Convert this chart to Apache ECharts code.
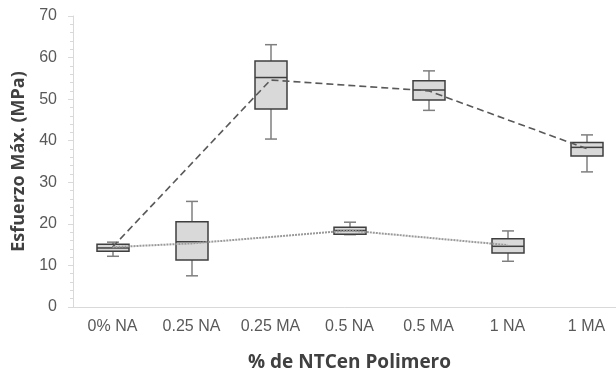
<!DOCTYPE html>
<html lang="es">
<head>
  <meta charset="UTF-8">
  <title>Esfuerzo Máx. por % de NTC en Polimero</title>
  <script src="https://cdn.jsdelivr.net/npm/echarts@6/dist/echarts.min.js"></script>
  <style>
    html, body { margin: 0; padding: 0; background: #fff; }
    #chart { width: 616px; height: 374px; }
  </style>
</head>
<body>
  <div id="chart"></div>
  <script>
    var categories = ['0% NA', '0.25 NA', '0.25 MA', '0.5 NA', '0.5 MA', '1 NA', '1 MA'];
    var boxMin    = [12.2,  7.5, 40.4, 17.4, 47.3, 11.0, 32.5];
    var boxQ1     = [13.4, 11.3, 47.6, 17.5, 49.8, 13.0, 36.3];
    var boxMedian = [14.2, 15.7, 55.2, 18.4, 52.2, 14.6, 38.4];
    var boxQ3     = [15.1, 20.5, 59.2, 19.2, 54.4, 16.4, 39.6];
    var boxMax    = [15.6, 25.4, 63.1, 20.4, 56.8, 18.3, 41.4];
    // medias de cada serie (null = no pertenece a la serie)
    var meanMA = [14.4, null, 54.6, null, 52.0, null, 38.1];
    var meanNA = [14.4, 15.3, null, 18.4, null, 14.9, null];

    var labelFont = "'Liberation Sans', Arial, sans-serif";
    var titleFont = "'Open Sans', 'Liberation Sans', sans-serif";

    var boxData = categories.map(function (c, i) {
      return [i, boxMin[i], boxQ1[i], boxMedian[i], boxQ3[i], boxMax[i]];
    });

    function renderBox(params, api) {
      var x = api.value(0);
      var pMin = api.coord([x, api.value(1)]);
      var pQ1 = api.coord([x, api.value(2)]);
      var pMed = api.coord([x, api.value(3)]);
      var pQ3 = api.coord([x, api.value(4)]);
      var pMax = api.coord([x, api.value(5)]);
      var cx = Math.round(pMed[0]);
      var half = 16, cap = 6;
      var whisker = { stroke: '#7f7f7f', lineWidth: 1.5 };
      var dark = { stroke: '#3f3f3f', lineWidth: 1.5 };
      return {
        type: 'group',
        children: [
          { type: 'line', shape: { x1: cx, y1: pMax[1], x2: cx, y2: pQ3[1] }, style: whisker },
          { type: 'line', shape: { x1: cx, y1: pQ1[1], x2: cx, y2: pMin[1] }, style: whisker },
          { type: 'line', shape: { x1: cx - cap, y1: pMax[1], x2: cx + cap, y2: pMax[1] }, style: whisker },
          { type: 'line', shape: { x1: cx - cap, y1: pMin[1], x2: cx + cap, y2: pMin[1] }, style: whisker },
          { type: 'rect', shape: { x: cx - half, y: pQ3[1], width: half * 2, height: pQ1[1] - pQ3[1] },
            style: { fill: '#d9d9d9', stroke: '#3f3f3f', lineWidth: 1.5 } },
          { type: 'line', shape: { x1: cx - half, y1: pMed[1], x2: cx + half, y2: pMed[1] }, style: dark }
        ]
      };
    }

    var chart = echarts.init(document.getElementById('chart'));
    chart.setOption({
      animation: false,
      grid: { left: 73, right: -10, top: 16, bottom: 67, containLabel: false, outerBoundsMode: 'none' },
      xAxis: {
        type: 'category',
        data: categories,
        boundaryGap: true,
        name: '% de NTCen Polimero',
        nameLocation: 'middle',
        nameGap: 46,
        nameTextStyle: { fontFamily: titleFont, fontWeight: 'bold', fontSize: 19, color: '#404040' },
        axisLine: { lineStyle: { color: '#d9d9d9', width: 1 } },
        axisTick: { alignWithLabel: true, length: 4, lineStyle: { color: '#d9d9d9' } },
        axisLabel: { margin: 12, fontFamily: labelFont, fontSize: 16, color: '#595959', interval: 0 },
        splitLine: { show: false }
      },
      yAxis: {
        type: 'value',
        min: 0, max: 70, interval: 10,
        name: 'Esfuerzo Máx. (MPa)',
        nameLocation: 'middle',
        nameGap: 45,
        nameTextStyle: { fontFamily: titleFont, fontWeight: 'bold', fontSize: 18, color: '#404040' },
        axisLine: { show: true, lineStyle: { color: '#d9d9d9', width: 1 } },
        axisTick: { show: true, inside: false, length: 5, lineStyle: { color: '#d9d9d9' } },
        minorTick: { show: true, splitNumber: 5, length: 3, lineStyle: { color: '#d9d9d9' } },
        axisLabel: { margin: 16, fontFamily: labelFont, fontSize: 16, color: '#595959' },
        splitLine: { show: false }
      },
      series: [
        {
          type: 'custom',
          renderItem: renderBox,
          data: boxData,
          encode: { x: 0, y: [1, 2, 3, 4, 5] }
        },
        {
          type: 'line',
          data: meanMA,
          connectNulls: true,
          symbol: 'none',
          lineStyle: { color: '#595959', width: 1.6, type: [7, 4] }
        },
        {
          type: 'line',
          data: meanNA,
          connectNulls: true,
          symbol: 'none',
          lineStyle: { color: '#9a9a9a', width: 2, type: [2, 1] }
        }
      ]
    });
  </script>
</body>
</html>
